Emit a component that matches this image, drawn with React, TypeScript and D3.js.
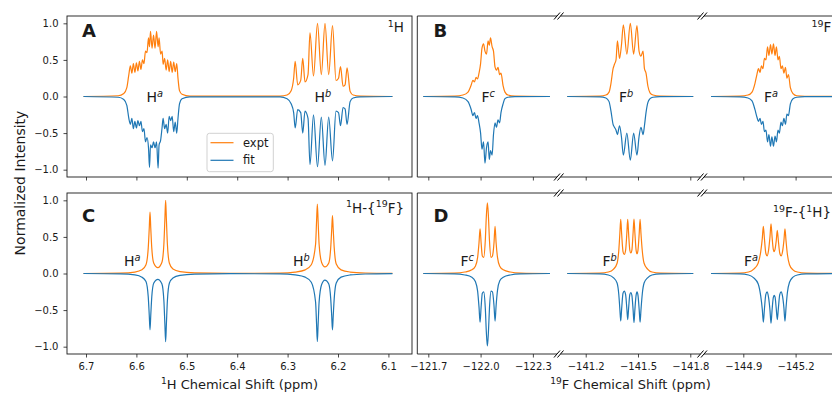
import React, { useEffect, useRef } from 'react';
import * as d3 from 'd3';

// ---- Panel A: 1H (coupled) ----
const aHaPpm = [6.705, 6.636, 6.625, 6.619, 6.615, 6.612, 6.609, 6.606, 6.603, 6.600, 6.597, 6.594, 6.591, 6.588, 6.585, 6.582, 6.579, 6.576, 6.574, 6.572, 6.569, 6.566, 6.563, 6.560, 6.557, 6.555, 6.552, 6.549, 6.547, 6.544, 6.541, 6.538, 6.535, 6.532, 6.529, 6.526, 6.523, 6.520, 6.5175, 6.5145, 6.5095, 6.494];
const aHaExpt = [0, 0.01, 0.04, 0.12, 0.30, 0.42, 0.32, 0.45, 0.33, 0.46, 0.35, 0.48, 0.37, 0.50, 0.45, 0.62, 0.60, 0.80, 0.68, 0.89, 0.66, 0.84, 0.66, 0.89, 0.68, 0.80, 0.58, 0.62, 0.44, 0.52, 0.36, 0.50, 0.34, 0.48, 0.33, 0.47, 0.34, 0.45, 0.25, 0.08, 0.03, 0.005];
const aHaFit = [0, -0.01, -0.04, -0.12, -0.30, -0.38, -0.30, -0.44, -0.34, -0.43, -0.33, -0.40, -0.34, -0.48, -0.44, -0.62, -0.56, -0.70, -0.97, -0.66, -0.70, -0.62, -0.70, -0.62, -0.98, -0.66, -0.60, -0.42, -0.30, -0.44, -0.38, -0.50, -0.27, -0.33, -0.27, -0.48, -0.35, -0.50, -0.30, -0.10, -0.03, -0.005];
const aHbPpm = [6.315, 6.301, 6.293, 6.288, 6.285, 6.280, 6.274, 6.270, 6.2655, 6.2595, 6.2556, 6.2486, 6.2407, 6.2331, 6.2258, 6.2185, 6.2109, 6.204, 6.199, 6.195, 6.190, 6.186, 6.182, 6.176, 6.170, 6.156, 6.092];
const aHbExpt = [0.005, 0.02, 0.08, 0.25, 0.48, 0.16, 0.22, 0.52, 0.20, 0.30, 0.87, 0.28, 1.0, 0.30, 1.0, 0.30, 0.97, 0.22, 0.25, 0.41, 0.14, 0.16, 0.39, 0.07, 0.02, 0.005, 0];
const aHbFit = [-0.005, -0.03, -0.10, -0.22, -0.43, -0.18, -0.22, -0.50, -0.20, -0.30, -0.93, -0.25, -0.96, -0.28, -0.94, -0.28, -0.88, -0.20, -0.22, -0.40, -0.15, -0.17, -0.38, -0.07, -0.02, -0.005, 0];

// ---- Panel B: 19F (coupled) ----
const bFcPpm = [-121.671, -121.853, -121.899, -121.928, -121.945, -121.956, -121.965, -121.974, -121.982, -121.991, -122.000, -122.008, -122.017, -122.025, -122.034, -122.043, -122.050, -122.057, -122.066, -122.074, -122.083, -122.091, -122.100, -122.109, -122.117, -122.129, -122.140, -122.157, -122.197, -122.398];
const bFcExpt = [0, 0.005, 0.02, 0.06, 0.15, 0.22, 0.20, 0.26, 0.24, 0.32, 0.45, 0.66, 0.72, 0.62, 0.58, 0.76, 0.70, 0.80, 0.68, 0.62, 0.40, 0.36, 0.40, 0.30, 0.32, 0.15, 0.06, 0.02, 0.005, 0];
const bFcFit = [0, -0.005, -0.02, -0.07, -0.17, -0.26, -0.22, -0.30, -0.26, -0.36, -0.50, -0.72, -0.62, -0.91, -0.70, -0.62, -0.86, -0.74, -0.80, -0.52, -0.36, -0.42, -0.32, -0.36, -0.22, -0.10, -0.03, -0.01, -0.003, 0];
const bFbPpm = [-141.094, -141.282, -141.316, -141.334, -141.345, -141.357, -141.365, -141.374, -141.382, -141.394, -141.405, -141.416, -141.436, -141.456, -141.475, -141.494, -141.506, -141.517, -141.529, -141.537, -141.546, -141.557, -141.569, -141.586, -141.626, -141.817];
const bFbExpt = [0, 0.005, 0.02, 0.06, 0.18, 0.38, 0.44, 0.50, 0.76, 0.52, 0.70, 0.98, 0.58, 1.0, 0.58, 0.97, 0.62, 0.55, 0.62, 0.38, 0.32, 0.14, 0.05, 0.02, 0.005, 0];
const bFbFit = [0, -0.005, -0.02, -0.07, -0.20, -0.38, -0.42, -0.46, -0.52, -0.40, -0.55, -0.80, -0.50, -0.87, -0.50, -0.80, -0.55, -0.42, -0.52, -0.40, -0.22, -0.08, -0.03, -0.01, -0.003, 0];
const bFaPpm = [-144.715, -144.881, -144.927, -144.950, -144.967, -144.978, -144.987, -144.996, -145.004, -145.013, -145.021, -145.030, -145.039, -145.047, -145.056, -145.064, -145.073, -145.082, -145.090, -145.099, -145.107, -145.116, -145.124, -145.133, -145.142, -145.150, -145.159, -145.170, -145.185, -145.207, -145.253, -145.454];
const bFaExpt = [0, 0.005, 0.02, 0.06, 0.18, 0.30, 0.38, 0.33, 0.42, 0.38, 0.52, 0.50, 0.68, 0.56, 0.71, 0.58, 0.72, 0.56, 0.68, 0.50, 0.55, 0.38, 0.42, 0.32, 0.40, 0.25, 0.30, 0.12, 0.04, 0.01, 0.003, 0];
const bFaFit = [0, -0.005, -0.02, -0.06, -0.18, -0.28, -0.34, -0.30, -0.38, -0.34, -0.48, -0.46, -0.62, -0.52, -0.68, -0.55, -0.68, -0.54, -0.62, -0.46, -0.50, -0.35, -0.40, -0.30, -0.38, -0.24, -0.26, -0.10, -0.03, -0.01, -0.003, 0];

// ---- Panel C: 1H-{19F} ----
const cHaPpm = [6.705, 6.632, 6.603, 6.589, 6.581, 6.5765, 6.5745, 6.573, 6.5715, 6.5695, 6.5655, 6.5575, 6.5495, 6.5455, 6.5435, 6.542, 6.5405, 6.5385, 6.5345, 6.5275, 6.5135, 6.484, 6.414];
const cHaExpt = [0, 0.005, 0.02, 0.05, 0.12, 0.35, 0.62, 0.84, 0.62, 0.35, 0.14, 0.08, 0.15, 0.40, 0.74, 1.0, 0.74, 0.40, 0.14, 0.06, 0.025, 0.008, 0.002];
const cHaFit = [0, -0.005, -0.02, -0.05, -0.11, -0.32, -0.57, -0.77, -0.57, -0.32, -0.13, -0.08, -0.14, -0.37, -0.69, -0.93, -0.69, -0.37, -0.13, -0.06, -0.025, -0.008, -0.002];
const cHbPpm = [6.315, 6.285, 6.265, 6.253, 6.2445, 6.2425, 6.241, 6.2395, 6.2375, 6.2325, 6.226, 6.2185, 6.2145, 6.2125, 6.211, 6.2095, 6.2075, 6.2035, 6.194, 6.176, 6.146, 6.092];
const cHbExpt = [0.005, 0.02, 0.05, 0.12, 0.40, 0.72, 0.95, 0.72, 0.40, 0.15, 0.09, 0.14, 0.35, 0.60, 0.79, 0.60, 0.35, 0.13, 0.05, 0.02, 0.007, 0.002];
const cHbFit = [-0.005, -0.02, -0.05, -0.12, -0.39, -0.70, -0.93, -0.70, -0.39, -0.15, -0.09, -0.14, -0.34, -0.58, -0.77, -0.58, -0.34, -0.13, -0.05, -0.02, -0.007, -0.002];

// ---- Panel D: 19F-{1H} ----
const dFcPpm = [-121.671, -121.85, -121.91, -121.95, -121.97, -121.983, -121.991, -121.997, -122.003, -122.010, -122.018, -122.027, -122.033, -122.039, -122.045, -122.051, -122.060, -122.068, -122.077, -122.083, -122.089, -122.097, -122.11, -122.13, -122.17, -122.23, -122.398];
const dFcExpt = [0, 0.005, 0.02, 0.05, 0.10, 0.22, 0.42, 0.61, 0.42, 0.24, 0.22, 0.45, 0.78, 0.965, 0.78, 0.45, 0.22, 0.24, 0.42, 0.645, 0.42, 0.22, 0.10, 0.05, 0.02, 0.006, 0];
const dFcFit = [0, -0.005, -0.02, -0.05, -0.11, -0.24, -0.46, -0.665, -0.46, -0.27, -0.25, -0.47, -0.80, -0.99, -0.80, -0.47, -0.24, -0.25, -0.44, -0.65, -0.44, -0.23, -0.10, -0.05, -0.02, -0.006, 0];
const dFbPpm = [-141.094, -141.28, -141.33, -141.36, -141.38, -141.39, -141.396, -141.401, -141.406, -141.414, -141.421, -141.429, -141.436, -141.441, -141.446, -141.453, -141.459, -141.465, -141.472, -141.477, -141.482, -141.489, -141.4945, -141.500, -141.507, -141.512, -141.517, -141.525, -141.535, -141.555, -141.58, -141.63, -141.817];
const dFbExpt = [0, 0.005, 0.02, 0.06, 0.14, 0.32, 0.55, 0.74, 0.55, 0.30, 0.26, 0.32, 0.55, 0.74, 0.55, 0.32, 0.28, 0.32, 0.56, 0.745, 0.56, 0.32, 0.27, 0.32, 0.55, 0.74, 0.55, 0.30, 0.14, 0.06, 0.02, 0.005, 0];
const dFbFit = [0, -0.005, -0.02, -0.06, -0.13, -0.29, -0.49, -0.65, -0.49, -0.27, -0.24, -0.29, -0.48, -0.63, -0.48, -0.29, -0.26, -0.30, -0.50, -0.67, -0.50, -0.30, -0.25, -0.30, -0.50, -0.665, -0.50, -0.27, -0.13, -0.06, -0.02, -0.005, 0];
const dFaPpm = [-144.715, -144.88, -144.93, -144.96, -144.985, -145.000, -145.009, -145.015, -145.021, -145.029, -145.037, -145.045, -145.053, -145.059, -145.065, -145.072, -145.077, -145.082, -145.089, -145.095, -145.101, -145.109, -145.117, -145.125, -145.133, -145.139, -145.145, -145.153, -145.165, -145.185, -145.21, -145.26, -145.454];
const dFaExpt = [0, 0.005, 0.02, 0.06, 0.14, 0.30, 0.48, 0.645, 0.48, 0.28, 0.24, 0.32, 0.50, 0.68, 0.50, 0.33, 0.30, 0.33, 0.45, 0.59, 0.45, 0.28, 0.24, 0.30, 0.45, 0.61, 0.45, 0.26, 0.12, 0.05, 0.02, 0.005, 0];
const dFaFit = [0, -0.005, -0.02, -0.06, -0.14, -0.31, -0.49, -0.665, -0.49, -0.29, -0.25, -0.33, -0.50, -0.68, -0.50, -0.33, -0.30, -0.32, -0.48, -0.63, -0.48, -0.29, -0.25, -0.31, -0.47, -0.65, -0.47, -0.26, -0.12, -0.05, -0.02, -0.005, 0];

// ---- ticks ----
const hTicks = [6.7, 6.6, 6.5, 6.4, 6.3, 6.2, 6.1];
const fcTicks = [-121.7, -122.0, -122.3];
const fbTicks = [-141.2, -141.5, -141.8];
const faTicks = [-144.9, -145.2];
const yTicks = [1.0, 0.5, 0.0, -0.5, -1.0];

const EXPT = '#ff7f0e';
const FIT = '#1f77b4';
const INK = '#1a1a1a';
const FONT = 'DejaVu Sans, sans-serif';

const W = 832;
const H = 393;
const rowTop = [16, 193];
const rowH = 161;

// text with superscripts: [text, kind] where kind is '' | 'sup' | 'supi'
const rich = (g, x, y, parts, size, anchor = 'start', weight = 'normal') => {
  const t = g.append('text')
    .attr('x', x).attr('y', y)
    .attr('font-family', FONT).attr('font-size', size)
    .attr('font-weight', weight).attr('text-anchor', anchor)
    .attr('fill', INK);
  const shift = size * 0.38;
  let up = false;
  parts.forEach(([s, kind]) => {
    const sp = t.append('tspan').text(s);
    if (kind) {
      sp.attr('font-size', size * 0.7);
      if (kind === 'supi') sp.attr('font-style', 'italic');
      if (!up) { sp.attr('dy', -shift); up = true; }
    } else if (up) {
      sp.attr('dy', shift);
      up = false;
    }
  });
  return t;
};

const styleAxis = g => {
  g.select('.domain').remove();
  g.attr('font-family', FONT).attr('font-size', 10);
  g.selectAll('.tick line').attr('stroke', INK).attr('stroke-width', 0.8);
  g.selectAll('.tick text').attr('fill', INK);
};

const drawChart = el => {
  const svg = d3.select(el);
  svg.selectAll('*').remove();
  svg.append('rect').attr('width', W).attr('height', H).attr('fill', '#fff');

  const fmt = d3.format('.1f');
  const yScales = rowTop.map(t => d3.scaleLinear().domain([-1.1, 1.1]).range([t + rowH, t]));
  const xH = d3.scaleLinear().domain([6.7377, 6.0532]).range([67, 412]);
  const fSegs = [
    { range: [417.3, 557], domain: [-121.6369, -122.4384], ticks: fcTicks },
    { range: [560.5, 700.5], domain: [-141.0554, -141.8586], ticks: fbTicks },
    { range: [704, 844], domain: [-144.6745, -145.4777], ticks: faTicks },
  ];
  const xF = fSegs.map(s => d3.scaleLinear().domain(s.domain).range(s.range));

  const curve = (x, y, ppm, vals, color) => {
    const line = d3.line()
      .x(d => x(d[0]))
      .y(d => y(d[1]))
      .curve(d3.curveMonotoneX);
    svg.append('path')
      .datum(d3.zip(ppm, vals))
      .attr('d', line)
      .attr('fill', 'none')
      .attr('stroke', color)
      .attr('stroke-width', 1.2)
      .attr('stroke-linejoin', 'round');
  };

  // 1H panels (A, C)
  const hRows = [
    { ppm: [...aHaPpm, ...aHbPpm], expt: [...aHaExpt, ...aHbExpt], fit: [...aHaFit, ...aHbFit] },
    { ppm: [...cHaPpm, ...cHbPpm], expt: [...cHaExpt, ...cHbExpt], fit: [...cHaFit, ...cHbFit] },
  ];
  // 19F panels (B, D), one entry per broken segment
  const fRows = [
    [[bFcPpm, bFcExpt, bFcFit], [bFbPpm, bFbExpt, bFbFit], [bFaPpm, bFaExpt, bFaFit]],
    [[dFcPpm, dFcExpt, dFcFit], [dFbPpm, dFbExpt, dFbFit], [dFaPpm, dFaExpt, dFaFit]],
  ];

  rowTop.forEach((top, r) => {
    const y = yScales[r];
    const bottom = top + rowH;

    // curves
    curve(xH, y, hRows[r].ppm, hRows[r].expt, EXPT);
    curve(xH, y, hRows[r].ppm, hRows[r].fit, FIT);
    fRows[r].forEach(([ppm, expt, fit], i) => {
      curve(xF[i], y, ppm, expt, EXPT);
      curve(xF[i], y, ppm, fit, FIT);
    });

    // frames
    svg.append('rect')
      .attr('x', 67).attr('y', top).attr('width', 412 - 67).attr('height', rowH)
      .attr('fill', 'none').attr('stroke', INK).attr('stroke-width', 0.9);
    fSegs.forEach(s => {
      [top, bottom].forEach(yy => {
        svg.append('line').attr('x1', s.range[0]).attr('x2', s.range[1])
          .attr('y1', yy).attr('y2', yy).attr('stroke', INK).attr('stroke-width', 0.9);
      });
    });
    svg.append('line').attr('x1', fSegs[0].range[0]).attr('x2', fSegs[0].range[0])
      .attr('y1', top).attr('y2', bottom).attr('stroke', INK).attr('stroke-width', 0.9);
    svg.append('line').attr('x1', fSegs[2].range[1]).attr('x2', fSegs[2].range[1])
      .attr('y1', top).attr('y2', bottom).attr('stroke', INK).attr('stroke-width', 0.9);

    // break marks
    [0, 1].forEach(i => {
      [fSegs[i].range[1], fSegs[i + 1].range[0]].forEach(bx => {
        [top, bottom].forEach(by => {
          svg.append('line')
            .attr('x1', bx - 3).attr('y1', by + 3.5)
            .attr('x2', bx + 3).attr('y2', by - 3.5)
            .attr('stroke', '#000').attr('stroke-width', 1);
        });
      });
    });

    // y axis (left panels only)
    svg.append('g')
      .attr('transform', `translate(67,0)`)
      .call(d3.axisLeft(y).tickValues(yTicks).tickSize(3.5).tickPadding(5).tickFormat(fmt))
      .call(styleAxis);

    // x axes
    const showLabels = r === 1;
    svg.append('g')
      .attr('transform', `translate(0,${bottom})`)
      .call(d3.axisBottom(xH).tickValues(hTicks).tickSize(3.5).tickPadding(5)
        .tickFormat(showLabels ? fmt : () => ''))
      .call(styleAxis);
    fSegs.forEach((s, i) => {
      svg.append('g')
        .attr('transform', `translate(0,${bottom})`)
        .call(d3.axisBottom(xF[i]).tickValues(s.ticks).tickSize(3.5).tickPadding(5)
          .tickFormat(showLabels ? fmt : () => ''))
        .call(styleAxis);
    });
  });

  // panel letters
  rich(svg, 82, 36.5, [['A', '']], 18, 'start', 'bold');
  rich(svg, 433.5, 36.5, [['B', '']], 18, 'start', 'bold');
  rich(svg, 82, 221.5, [['C', '']], 18, 'start', 'bold');
  rich(svg, 433.5, 221.5, [['D', '']], 18, 'start', 'bold');

  // experiment tags
  rich(svg, 404, 32.3, [['1', 'sup'], ['H', '']], 13.5, 'end');
  rich(svg, 811.5, 32.3, [['19', 'sup'], ['F', '']], 13.5);
  rich(svg, 404, 212.5, [['1', 'sup'], ['H-{', ''], ['19', 'sup'], ['F}', '']], 13.5, 'end');
  rich(svg, 773, 217, [['19', 'sup'], ['F-{', ''], ['1', 'sup'], ['H}', '']], 13.5);

  // multiplet labels
  rich(svg, 146.5, 102, [['H', ''], ['a', 'supi']], 14);
  rich(svg, 314.5, 102, [['H', ''], ['b', 'supi']], 14);
  rich(svg, 481.5, 102, [['F', ''], ['c', 'supi']], 14);
  rich(svg, 619, 102, [['F', ''], ['b', 'supi']], 14);
  rich(svg, 764, 102, [['F', ''], ['a', 'supi']], 14);
  rich(svg, 124, 266, [['H', ''], ['a', 'supi']], 14);
  rich(svg, 293, 266, [['H', ''], ['b', 'supi']], 14);
  rich(svg, 460.5, 266, [['F', ''], ['c', 'supi']], 14);
  rich(svg, 602.5, 266, [['F', ''], ['b', 'supi']], 14);
  rich(svg, 744, 266, [['F', ''], ['a', 'supi']], 14);

  // legend
  const lg = svg.append('g');
  lg.append('rect')
    .attr('x', 207).attr('y', 133.3).attr('width', 66.3).attr('height', 38.4).attr('rx', 2.5)
    .attr('fill', '#fff').attr('fill-opacity', 0.8).attr('stroke', '#cccccc').attr('stroke-width', 0.9);
  [['expt', EXPT, 142.7], ['fit', FIT, 160.3]].forEach(([label, color, ly]) => {
    lg.append('line').attr('x1', 210.5).attr('x2', 233.5).attr('y1', ly).attr('y2', ly)
      .attr('stroke', color).attr('stroke-width', 1.2);
    lg.append('text').attr('x', 243).attr('y', ly + 4)
      .attr('font-family', FONT).attr('font-size', 11.5).attr('fill', INK).text(label);
  });

  // axis titles
  svg.append('text')
    .attr('transform', 'translate(24.5,183) rotate(-90)')
    .attr('text-anchor', 'middle').attr('font-family', FONT).attr('font-size', 14)
    .attr('fill', INK).text('Normalized Intensity');
  rich(svg, 239.5, 388.5, [['1', 'sup'], ['H Chemical Shift (ppm)', '']], 13, 'middle');
  rich(svg, 630.5, 388.5, [['19', 'sup'], ['F Chemical Shift (ppm)', '']], 13, 'middle');
};

const App = () => {
  const ref = useRef(null);

  useEffect(() => {
    if (ref.current) drawChart(ref.current);
  }, []);

  return (
    <svg
      ref={ref}
      width={W}
      height={H}
      style={{ position: 'absolute', left: 0, top: 0, display: 'block' }}
    />
  );
};

export default App;
